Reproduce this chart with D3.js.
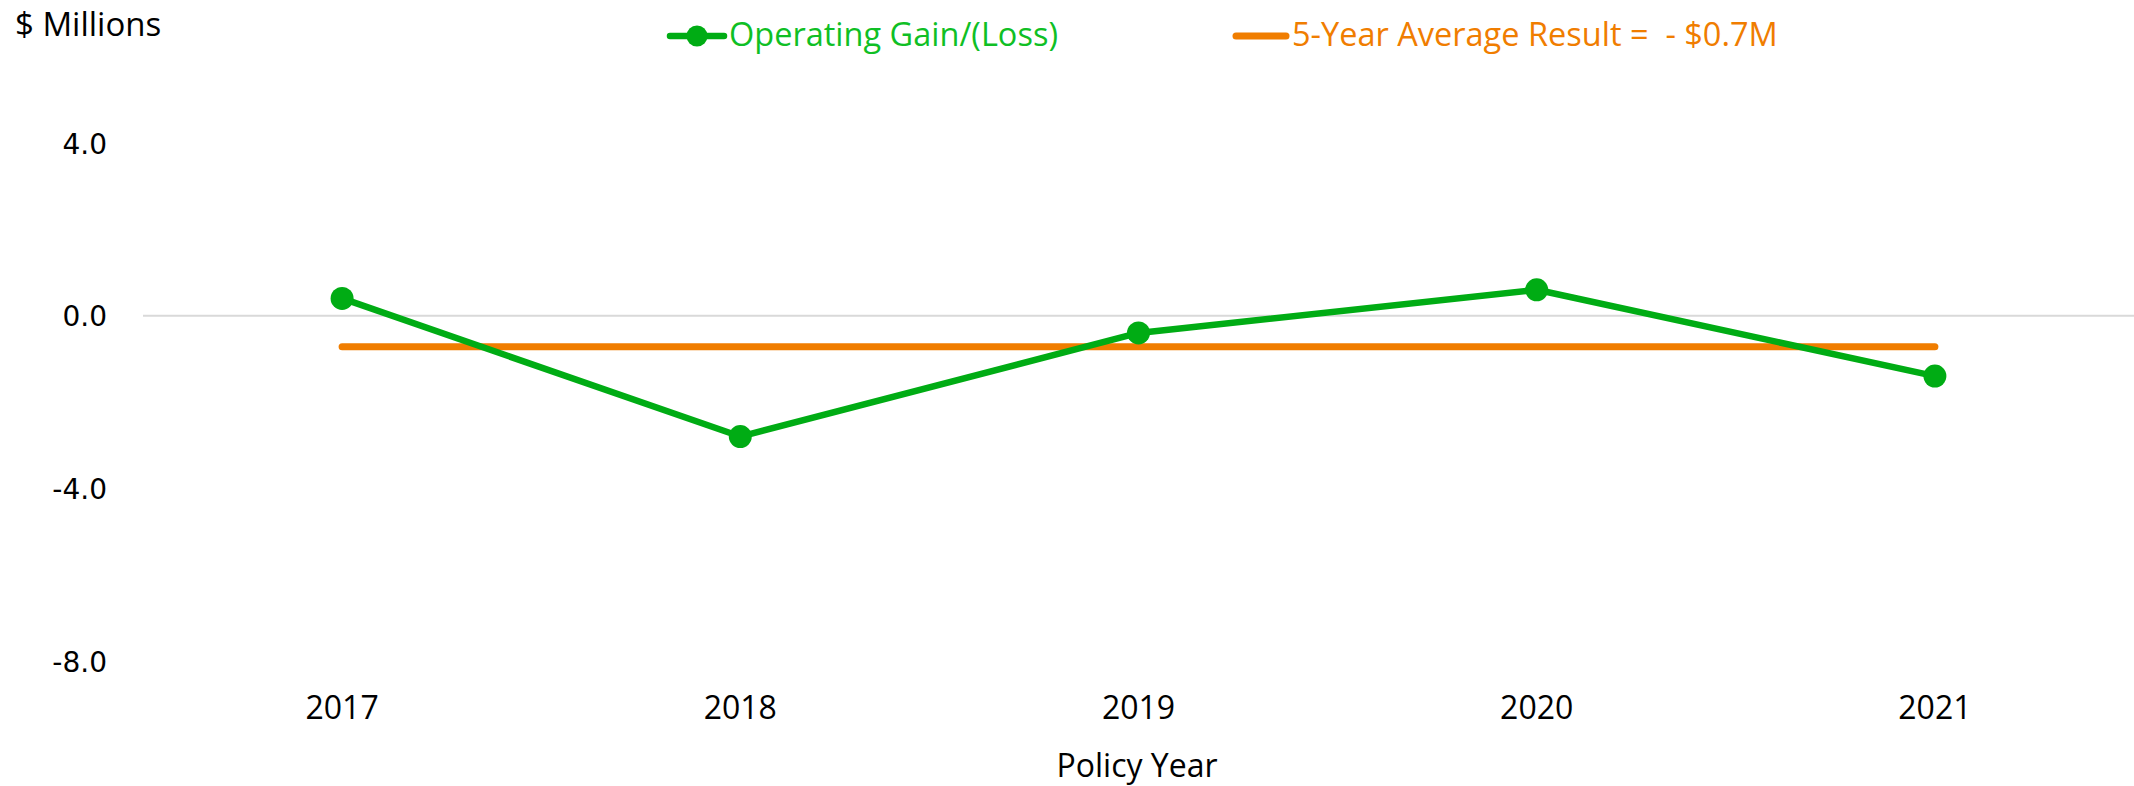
<!DOCTYPE html>
<html>
<head>
<meta charset="utf-8">
<script src="https://cdn.jsdelivr.net/npm/d3@7"></script>
<style>
  body { margin: 0; background: #fff; }
</style>
</head>
<body>
<script>
// data
var years = ["2017", "2018", "2019", "2020", "2021"];
var operatingGain = [0.4, -2.8, -0.4, 0.6, -1.4];
var fiveYearAverage = [-0.72, -0.72, -0.72, -0.72, -0.72];
var yTicks = [4, 0, -4, -8];

var width = 2134, height = 786;
var green = "#00AC14", greenText = "#0FBF25", orange = "#F07D00";

var svg = d3.select("body")
    .append("svg")
    .attr("width", width)
    .attr("height", height);

// scales
var x = d3.scaleBand()
    .domain(years)
    .range([143, 2134])
    .padding(0);
var y = d3.scaleLinear()
    .domain([-8, 4])
    .range([661, 143]);
var cx = function (d) { return x(d) + x.bandwidth() / 2; };

// y axis (labels only) + zero gridline
var yAxis = d3.axisLeft(y)
    .tickValues(yTicks)
    .tickFormat(function (d) { return d.toFixed(1); }) // plain hyphen for negatives
    .tickSize(0)
    .tickPadding(0);
var gy = svg.append("g")
    .attr("transform", "translate(107,0)")
    .call(yAxis);
gy.select(".domain").remove();
gy.selectAll("text")
    .attr("font-family", "DejaVu Sans, sans-serif")
    .attr("font-size", "28px")
    .attr("fill", "#000")
    .attr("dy", "0.36em");

svg.append("line")
    .attr("x1", 143).attr("x2", 2134)
    .attr("y1", y(0)).attr("y2", y(0))
    .attr("stroke", "#d9d9d9")
    .attr("stroke-width", 2);

// x axis labels
var xAxis = d3.axisBottom(x).tickSize(0).tickPadding(0);
var gx = svg.append("g")
    .attr("transform", "translate(0,719)")
    .call(xAxis);
gx.select(".domain").remove();
gx.selectAll("text")
    .attr("y", 0)
    .attr("dy", 0)
    .attr("font-family", "Open Sans, sans-serif")
    .attr("font-size", "32px")
    .attr("fill", "#000");

// average line
var line = d3.line()
    .x(function (d, i) { return cx(years[i]); })
    .y(function (d) { return y(d); });
svg.append("path")
    .datum(fiveYearAverage)
    .attr("d", line)
    .attr("fill", "none")
    .attr("stroke", orange)
    .attr("stroke-width", 7)
    .attr("stroke-linecap", "round");

// operating gain line
svg.append("path")
    .datum(operatingGain)
    .attr("d", line)
    .attr("fill", "none")
    .attr("stroke", green)
    .attr("stroke-width", 6.5)
    .attr("stroke-linejoin", "round");
svg.selectAll("circle.pt")
    .data(operatingGain)
    .enter()
    .append("circle")
    .attr("class", "pt")
    .attr("cx", function (d, i) { return cx(years[i]); })
    .attr("cy", function (d) { return y(d); })
    .attr("r", 11.5)
    .attr("fill", green);

// titles
svg.append("text")
    .text("$ Millions")
    .attr("x", 15).attr("y", 36)
    .attr("font-family", "Open Sans, sans-serif")
    .attr("font-size", "33px")
    .attr("fill", "#000");
svg.append("text")
    .text("Policy Year")
    .attr("x", 1137).attr("y", 777)
    .attr("text-anchor", "middle")
    .attr("font-family", "Open Sans, sans-serif")
    .attr("font-size", "32px")
    .attr("fill", "#000");

// legend
var lg = svg.append("g");
lg.append("line")
    .attr("x1", 670).attr("x2", 724).attr("y1", 36).attr("y2", 36)
    .attr("stroke", green).attr("stroke-width", 6.5).attr("stroke-linecap", "round");
lg.append("circle")
    .attr("cx", 697).attr("cy", 36).attr("r", 10.5).attr("fill", green);
lg.append("text")
    .text("Operating Gain/(Loss)")
    .attr("x", 729).attr("y", 46)
    .attr("font-family", "Open Sans, sans-serif")
    .attr("font-size", "32.5px")
    .attr("fill", greenText);
lg.append("line")
    .attr("x1", 1236).attr("x2", 1286).attr("y1", 36).attr("y2", 36)
    .attr("stroke", orange).attr("stroke-width", 7).attr("stroke-linecap", "round");
lg.append("text")
    .text("5-Year Average Result =  - $0.7M")
    .attr("x", 1292).attr("y", 46)
    .attr("xml:space", "preserve")
    .style("white-space", "pre")
    .attr("font-family", "Open Sans, sans-serif")
    .attr("font-size", "32.5px")
    .attr("fill", orange);
</script>
</body>
</html>
